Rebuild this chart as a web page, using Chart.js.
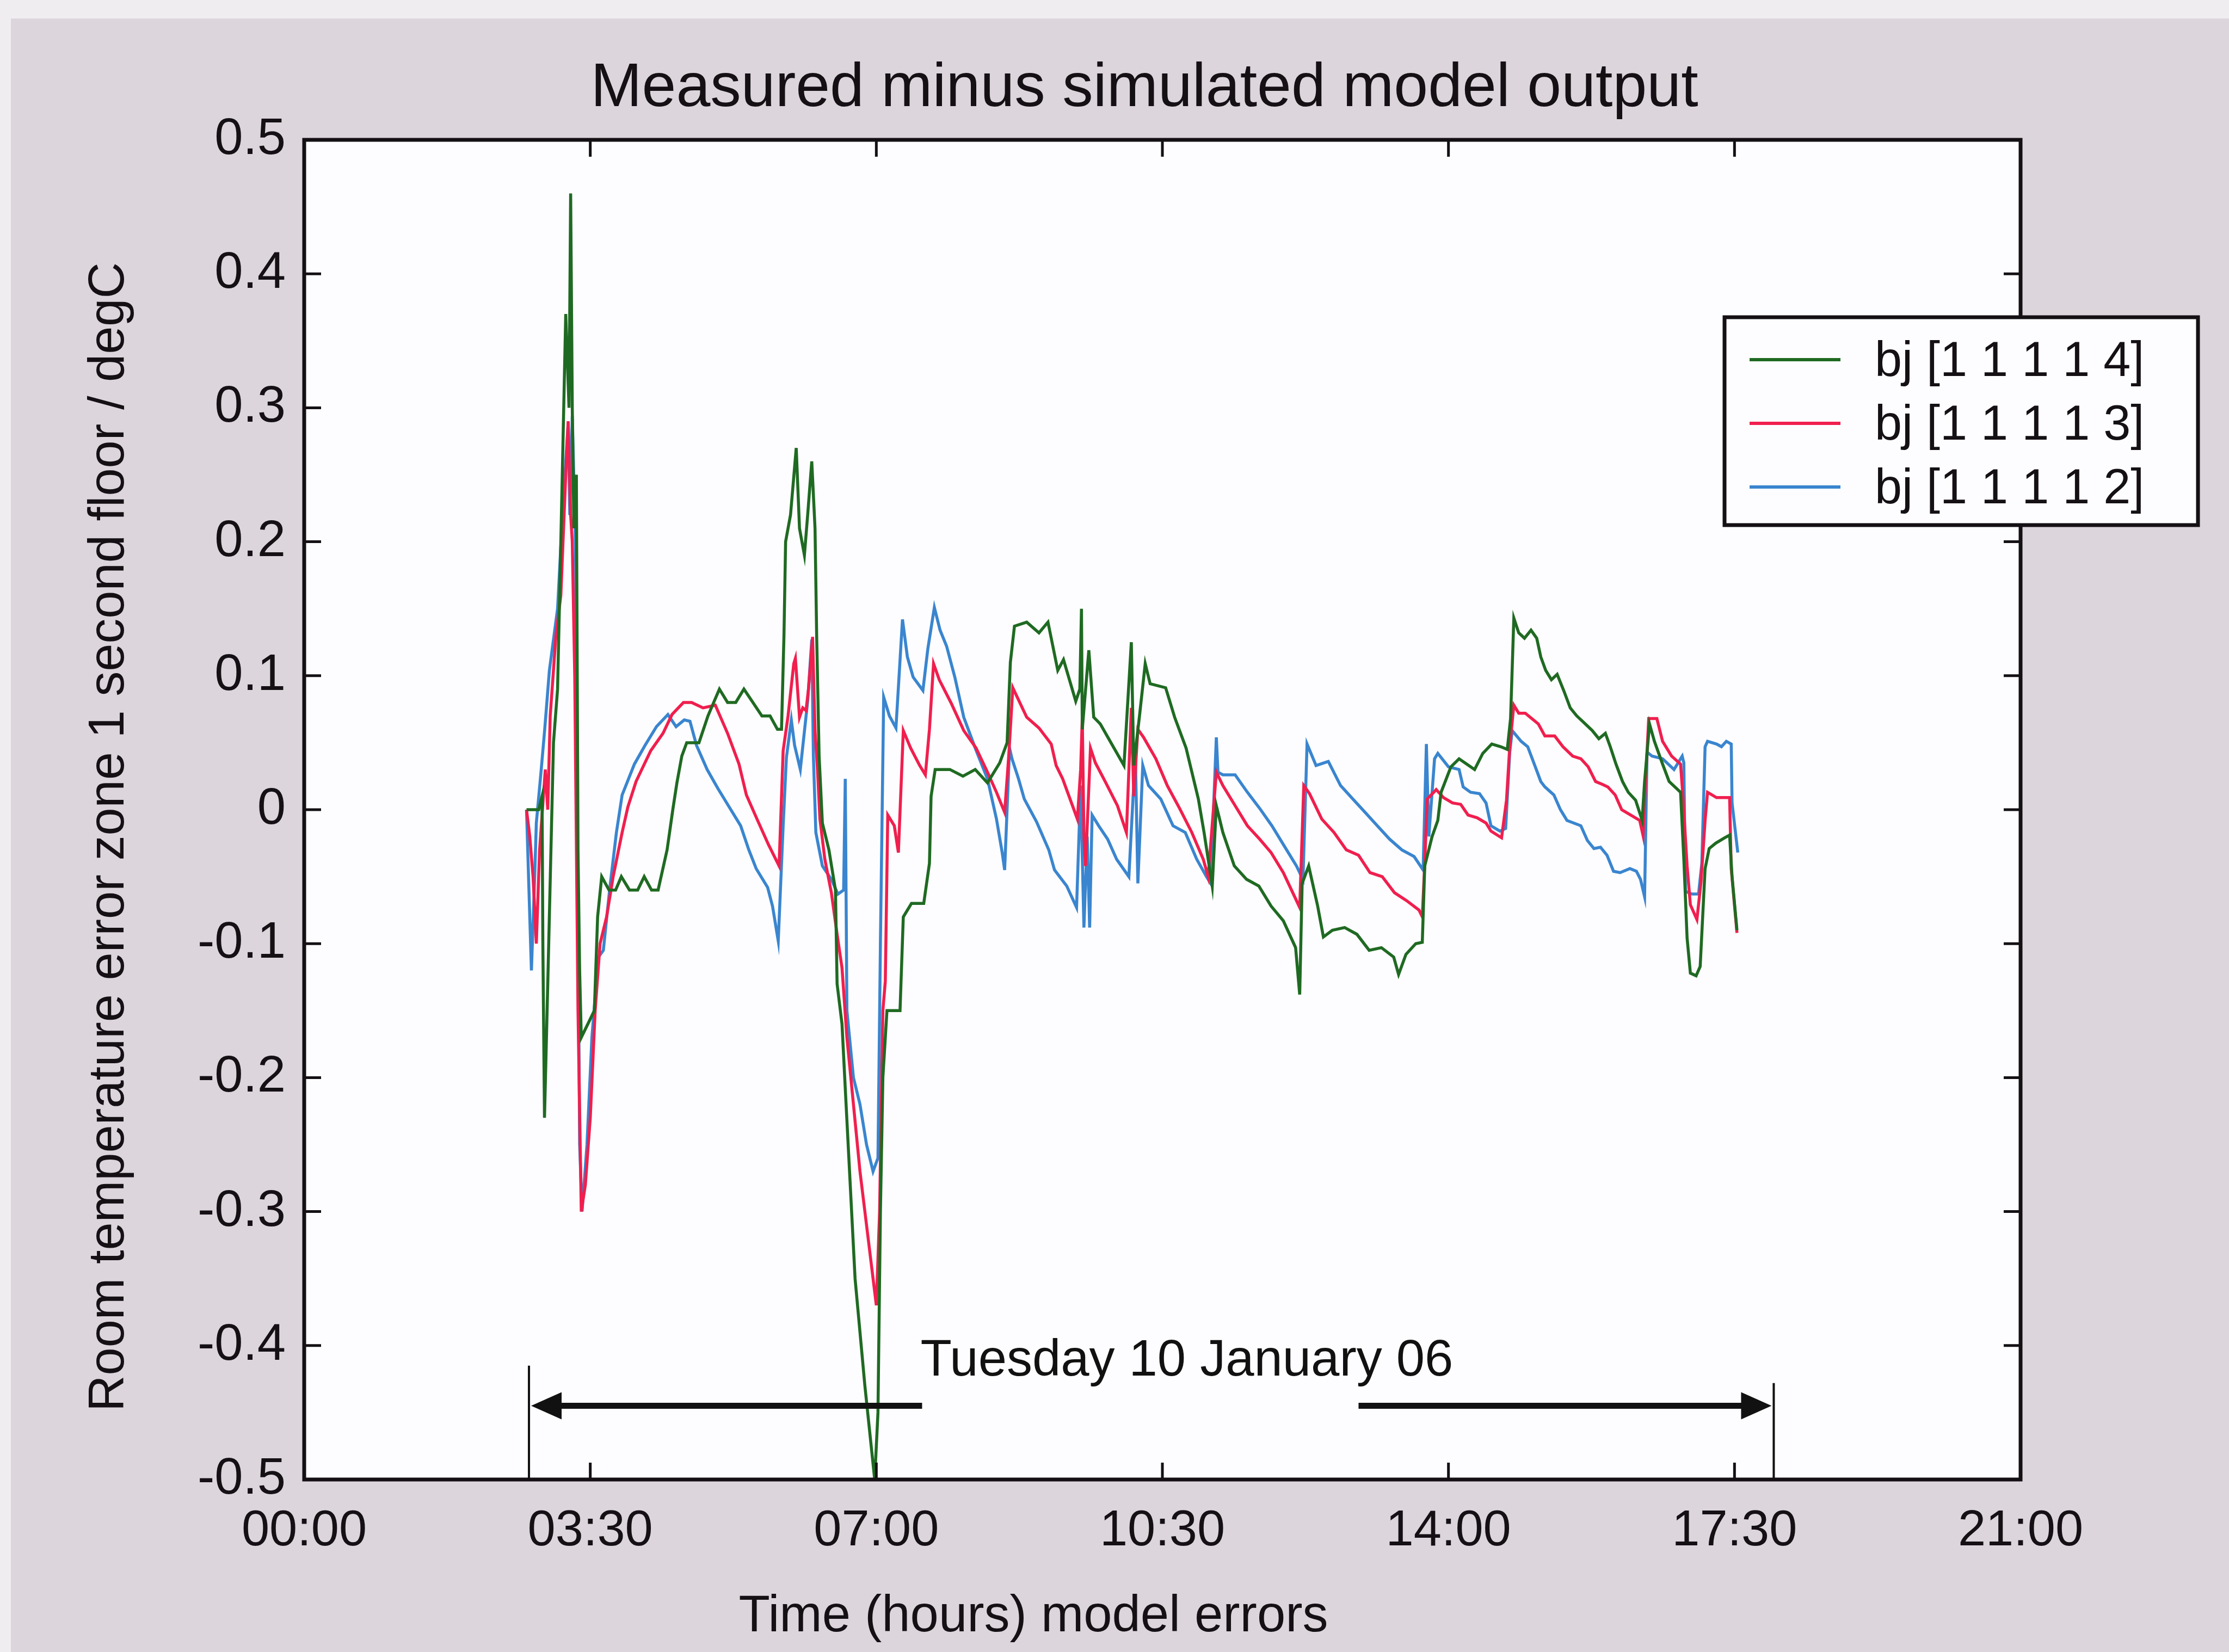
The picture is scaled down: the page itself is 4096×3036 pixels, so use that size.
<!DOCTYPE html>
<html>
<head>
<meta charset="utf-8">
<title>Measured minus simulated model output</title>
<script src="https://cdn.jsdelivr.net/npm/chart.js@4.4.1/dist/chart.umd.min.js"></script>
<style>
  html, body { margin: 0; padding: 0; background: #dcd5dc; }
  #wrap { width: 4096px; height: 3036px; }
</style>
</head>
<body>
<div id="wrap"><canvas id="errChart" width="4096" height="3036"></canvas></div>
<script>
// ── Data: time (hours since midnight) and room temperature error (degC) ──

var hoursBj4 = [2.72, 2.87, 2.91, 2.92, 2.94, 2.98, 3.05, 3.10, 3.14, 3.20, 3.24, 3.26, 3.28, 3.30, 3.33, 3.35, 3.37, 3.39, 3.47, 3.55,
  3.59, 3.64, 3.73, 3.81, 3.88, 3.98, 4.08, 4.16, 4.25, 4.33, 4.44, 4.51, 4.56, 4.62, 4.68, 4.76, 4.83, 4.94, 5.01, 5.08,
  5.18, 5.28, 5.38, 5.49, 5.60, 5.70, 5.79, 5.84, 5.87, 5.89, 5.95, 6.02, 6.06, 6.12, 6.16, 6.21, 6.25, 6.27, 6.30, 6.34,
  6.42, 6.50, 6.52, 6.58, 6.63, 6.74, 6.86, 6.98, 7.02, 7.05, 7.08, 7.13, 7.18, 7.29, 7.33, 7.43, 7.58, 7.65, 7.67, 7.72,
  7.90, 8.06, 8.21, 8.36, 8.51, 8.60, 8.64, 8.69, 8.84, 8.99, 9.10, 9.22, 9.29, 9.44, 9.49, 9.51, 9.52, 9.60, 9.66, 9.74,
  9.88, 10.03, 10.12, 10.15, 10.22, 10.29, 10.35, 10.54, 10.65, 10.79, 10.94, 11.01, 11.11, 11.16, 11.24, 11.38, 11.53, 11.68, 11.83, 11.98,
  12.13, 12.18, 12.21, 12.29, 12.40, 12.47, 12.58, 12.73, 12.88, 13.03, 13.18, 13.33, 13.39, 13.48, 13.60, 13.68, 13.71, 13.80, 13.87, 13.91,
  14.03, 14.13, 14.32, 14.42, 14.53, 14.64, 14.72, 14.76, 14.80, 14.86, 14.93, 15.01, 15.08, 15.13, 15.19, 15.26, 15.33, 15.41, 15.49, 15.57,
  15.64, 15.76, 15.84, 15.92, 15.98, 16.05, 16.13, 16.20, 16.29, 16.37, 16.40, 16.46, 16.52, 16.62, 16.70, 16.84, 16.88, 16.92, 16.96, 17.03,
  17.08, 17.14, 17.19, 17.27, 17.38, 17.44, 17.47, 17.53];
var errBj4 = [0.00, 0.00, 0.01, -0.10, -0.23, -0.13, 0.05, 0.09, 0.20, 0.37, 0.30, 0.46, 0.30, 0.21, 0.25, -0.03, -0.12, -0.17, -0.16, -0.15,
  -0.08, -0.05, -0.06, -0.06, -0.05, -0.06, -0.06, -0.05, -0.06, -0.06, -0.03, 0.00, 0.02, 0.04, 0.05, 0.05, 0.05, 0.07, 0.08, 0.09,
  0.08, 0.08, 0.09, 0.08, 0.07, 0.07, 0.06, 0.06, 0.13, 0.20, 0.22, 0.27, 0.21, 0.19, 0.22, 0.26, 0.21, 0.13, 0.04, -0.01,
  -0.03, -0.06, -0.13, -0.16, -0.22, -0.35, -0.43, -0.50, -0.45, -0.30, -0.20, -0.15, -0.15, -0.15, -0.08, -0.07, -0.07, -0.04, 0.01, 0.03,
  0.03, 0.025, 0.03, 0.02, 0.035, 0.05, 0.11, 0.137, 0.14, 0.132, 0.14, 0.104, 0.112, 0.081, 0.09, 0.15, 0.06, 0.119, 0.069, 0.064,
  0.049, 0.033, 0.125, 0.033, 0.07, 0.109, 0.094, 0.091, 0.069, 0.046, 0.008, -0.017, -0.057, 0.003, -0.017, -0.042, -0.052, -0.057, -0.072, -0.083,
  -0.103, -0.138, -0.055, -0.042, -0.072, -0.095, -0.09, -0.088, -0.093, -0.105, -0.103, -0.11, -0.123, -0.108, -0.10, -0.099, -0.042, -0.02, -0.008, 0.013,
  0.032, 0.038, 0.03, 0.042, 0.049, 0.047, 0.045, 0.068, 0.143, 0.132, 0.128, 0.134, 0.128, 0.114, 0.104, 0.097, 0.101, 0.089, 0.076, 0.07,
  0.066, 0.059, 0.053, 0.057, 0.047, 0.034, 0.021, 0.013, 0.007, -0.008, 0.021, 0.064, 0.051, 0.034, 0.021, 0.013, -0.037, -0.096, -0.122, -0.124,
  -0.117, -0.044, -0.029, -0.025, -0.021, -0.019, -0.05, -0.09];

var hoursBj3 = [2.72, 2.76, 2.80, 2.84, 2.88, 2.95, 2.98, 3.01, 3.08, 3.14, 3.20, 3.23, 3.26, 3.28, 3.31, 3.35, 3.39, 3.44, 3.50, 3.56,
  3.62, 3.70, 3.78, 3.89, 3.96, 4.06, 4.13, 4.24, 4.39, 4.50, 4.64, 4.74, 4.88, 5.03, 5.18, 5.32, 5.41, 5.54, 5.68, 5.81,
  5.86, 5.92, 5.99, 6.01, 6.06, 6.10, 6.14, 6.17, 6.22, 6.25, 6.28, 6.31, 6.37, 6.45, 6.52, 6.58, 6.64, 6.72, 6.80, 6.88,
  6.96, 7.00, 7.04, 7.08, 7.11, 7.14, 7.22, 7.27, 7.33, 7.42, 7.53, 7.60, 7.65, 7.70, 7.77, 7.92, 8.07, 8.22, 8.36, 8.47,
  8.57, 8.62, 8.67, 8.84, 8.99, 9.14, 9.20, 9.28, 9.34, 9.46, 9.50, 9.52, 9.54, 9.56, 9.62, 9.68, 9.80, 9.95, 10.06, 10.12,
  10.15, 10.20, 10.27, 10.42, 10.56, 10.71, 10.86, 11.00, 11.06, 11.16, 11.24, 11.39, 11.54, 11.69, 11.83, 11.98, 12.08, 12.18, 12.23, 12.30,
  12.45, 12.60, 12.75, 12.90, 13.04, 13.19, 13.34, 13.49, 13.64, 13.68, 13.71, 13.74, 13.82, 13.85, 13.94, 14.05, 14.15, 14.24, 14.35, 14.46,
  14.52, 14.65, 14.71, 14.75, 14.80, 14.86, 14.94, 15.02, 15.10, 15.18, 15.30, 15.40, 15.52, 15.62, 15.71, 15.80, 15.88, 15.95, 16.04, 16.12,
  16.23, 16.34, 16.38, 16.45, 16.55, 16.62, 16.73, 16.84, 16.87, 16.92, 16.96, 17.04, 17.09, 17.14, 17.17, 17.28, 17.44, 17.46, 17.53];
var errBj3 = [0.00, -0.02, -0.05, -0.10, -0.03, 0.03, 0.00, 0.07, 0.13, 0.16, 0.25, 0.29, 0.22, 0.20, 0.10, -0.15, -0.30, -0.28, -0.23, -0.15,
  -0.10, -0.08, -0.05, -0.017, 0.002, 0.021, 0.03, 0.044, 0.057, 0.071, 0.08, 0.08, 0.076, 0.078, 0.057, 0.034, 0.011, -0.007, -0.026, -0.042,
  0.044, 0.07, 0.109, 0.113, 0.069, 0.076, 0.074, 0.09, 0.129, 0.059, 0.03, -0.007, -0.037, -0.062, -0.093, -0.118, -0.17, -0.22, -0.27, -0.31,
  -0.35, -0.37, -0.30, -0.15, -0.128, -0.004, -0.012, -0.032, 0.059, 0.046, 0.033, 0.026, 0.06, 0.109, 0.097, 0.079, 0.059, 0.046, 0.028, 0.013,
  -0.002, 0.04, 0.091, 0.069, 0.061, 0.049, 0.033, 0.023, 0.013, -0.007, 0.03, 0.069, -0.02, -0.042, 0.046, 0.035, 0.021, 0.003, -0.017, 0.076,
  0.01, 0.06, 0.054, 0.038, 0.018, 0.001, -0.017, -0.037, -0.05, 0.028, 0.018, 0.003, -0.012, -0.022, -0.032, -0.047, -0.06, -0.073, 0.018, 0.012,
  -0.007, -0.017, -0.03, -0.034, -0.047, -0.05, -0.062, -0.068, -0.075, -0.08, -0.04, 0.008, 0.013, 0.015, 0.009, 0.005, 0.004, -0.004, -0.006, -0.01,
  -0.016, -0.021, 0.007, 0.047, 0.078, 0.072, 0.072, 0.068, 0.064, 0.055, 0.055, 0.047, 0.04, 0.038, 0.032, 0.021, 0.019, 0.017, 0.011, 0.0,
  -0.004, -0.008, -0.019, 0.068, 0.068, 0.051, 0.04, 0.034, 0.009, -0.042, -0.071, -0.082, -0.054, -0.008, 0.013, 0.009, 0.009, -0.044, -0.092];

var hoursBj2 = [2.72, 2.75, 2.78, 2.82, 2.84, 2.90, 2.94, 3.00, 3.10, 3.16, 3.23, 3.25, 3.28, 3.32, 3.37, 3.40, 3.46, 3.52, 3.60, 3.66,
  3.74, 3.82, 3.89, 4.04, 4.17, 4.31, 4.45, 4.55, 4.65, 4.72, 4.80, 4.93, 5.06, 5.20, 5.34, 5.44, 5.53, 5.67, 5.73, 5.80,
  5.86, 5.90, 5.96, 6.00, 6.07, 6.16, 6.21, 6.23, 6.26, 6.34, 6.45, 6.53, 6.60, 6.62, 6.64, 6.72, 6.80, 6.88, 6.96, 7.02,
  7.05, 7.09, 7.16, 7.24, 7.32, 7.38, 7.45, 7.57, 7.63, 7.71, 7.78, 7.86, 7.96, 8.07, 8.21, 8.36, 8.47, 8.54, 8.57, 8.63,
  8.66, 8.74, 8.81, 8.96, 9.11, 9.18, 9.33, 9.45, 9.50, 9.54, 9.58, 9.61, 9.64, 9.72, 9.83, 9.94, 10.09, 10.14, 10.17, 10.20,
  10.26, 10.33, 10.48, 10.63, 10.78, 10.92, 11.04, 11.09, 11.16, 11.18, 11.24, 11.39, 11.54, 11.69, 11.84, 11.99, 12.14, 12.22, 12.27, 12.38,
  12.53, 12.68, 12.83, 12.98, 13.13, 13.28, 13.43, 13.58, 13.69, 13.73, 13.76, 13.83, 13.87, 14.00, 14.13, 14.18, 14.27, 14.38, 14.46, 14.52,
  14.63, 14.70, 14.75, 14.78, 14.89, 14.97, 15.05, 15.13, 15.18, 15.29, 15.37, 15.45, 15.62, 15.70, 15.78, 15.86, 15.94, 16.02, 16.10, 16.22,
  16.30, 16.35, 16.40, 16.43, 16.49, 16.62, 16.76, 16.86, 16.88, 16.90, 16.98, 17.06, 17.10, 17.14, 17.17, 17.28, 17.34, 17.40, 17.46, 17.47,
  17.54];
var errBj2 = [0.00, -0.06, -0.12, -0.05, -0.01, 0.03, 0.058, 0.104, 0.15, 0.22, 0.289, 0.22, 0.294, 0.196, -0.25, -0.30, -0.25, -0.17, -0.11, -0.105,
  -0.058, -0.017, 0.011, 0.034, 0.048, 0.062, 0.071, 0.062, 0.067, 0.066, 0.048, 0.03, 0.016, 0.002, -0.012, -0.03, -0.044, -0.058, -0.072, -0.098,
  -0.012, 0.039, 0.067, 0.048, 0.03, 0.081, 0.127, 0.04, -0.017, -0.042, -0.052, -0.063, -0.06, 0.023, -0.15, -0.20, -0.22, -0.25, -0.27, -0.26,
  -0.10, 0.084, 0.07, 0.061, 0.142, 0.114, 0.099, 0.089, 0.12, 0.151, 0.134, 0.122, 0.099, 0.069, 0.046, 0.023, -0.007, -0.032, -0.045, 0.046,
  0.038, 0.023, 0.008, -0.009, -0.03, -0.045, -0.057, -0.073, 0.018, -0.088, -0.02, -0.088, -0.004, -0.012, -0.022, -0.037, -0.05, 0.008, 0.04, -0.055,
  0.033, 0.018, 0.008, -0.012, -0.017, -0.037, -0.05, -0.055, 0.054, 0.028, 0.026, 0.026, 0.013, 0.001, -0.012, -0.027, -0.042, -0.052, 0.049, 0.033,
  0.036, 0.018, 0.008, -0.002, -0.012, -0.022, -0.03, -0.035, -0.045, 0.049, -0.02, 0.038, 0.042, 0.032, 0.03, 0.017, 0.013, 0.012, 0.005, -0.012,
  -0.016, -0.014, 0.043, 0.059, 0.051, 0.047, 0.034, 0.021, 0.017, 0.011, 0.0, -0.008, -0.012, -0.023, -0.029, -0.028, -0.034, -0.046, -0.047, -0.044,
  -0.046, -0.052, -0.065, 0.043, 0.04, 0.038, 0.03, 0.04, 0.035, -0.061, -0.063, -0.063, -0.04, 0.047, 0.051, 0.049, 0.047, 0.051, 0.049, 0.005,
  -0.032];

var seriesLabels = ['bj [1 1 1 1 4]', 'bj [1 1 1 1 3]', 'bj [1 1 1 1 2]'];
var seriesColors = ['#1f6a22', '#f01f4e', '#3a85cf'];

var xTickValues = [0, 3.5, 7, 10.5, 14, 17.5, 21];
var xTickLabels = ['00:00', '03:30', '07:00', '10:30', '14:00', '17:30', '21:00'];
var yTickValues = [-0.5, -0.4, -0.3, -0.2, -0.1, 0, 0.1, 0.2, 0.3, 0.4, 0.5];
var yTickLabels = ['-0.5', '-0.4', '-0.3', '-0.2', '-0.1', '0', '0.1', '0.2', '0.3', '0.4', '0.5'];

// Date span annotation (hours / degC)
var dayLabel = 'Tuesday 10 January 06';
var spanStart = 2.75, spanEnd = 17.98;
var arrowLeftEnd = 7.56, arrowRightStart = 12.9;

var FONT = '"Liberation Sans", Arial, Helvetica, sans-serif';

function toPoints(xs, ys) {
  return xs.map(function(x, i) { return { x: x, y: ys[i] }; });
}

// ── Plugins: backdrop, MATLAB-style box, annotation, texts, legend ──

var backdrop = {
  id: 'backdrop',
  beforeDraw: function(chart) {
    var ctx = chart.ctx, a = chart.chartArea;
    ctx.save();
    ctx.fillStyle = '#dcd5dc';
    ctx.fillRect(0, 0, chart.width, chart.height);
    ctx.fillStyle = '#f0edf1';
    ctx.fillRect(0, 0, chart.width, 34);
    ctx.fillRect(0, 0, 20, chart.height);
    ctx.fillStyle = '#fdfdff';
    ctx.fillRect(a.left, a.top, a.right - a.left, a.bottom - a.top);
    ctx.restore();
  }
};

var matlabBox = {
  id: 'matlabBox',
  afterDatasetsDraw: function(chart) {
    var ctx = chart.ctx, a = chart.chartArea;
    var sx = chart.scales.x, sy = chart.scales.y;
    var len = 31;
    ctx.save();
    ctx.strokeStyle = '#141014';
    ctx.lineWidth = 5;
    ctx.beginPath();
    xTickValues.forEach(function(v) {
      var px = sx.getPixelForValue(v);
      ctx.moveTo(px, a.bottom); ctx.lineTo(px, a.bottom - len);
      ctx.moveTo(px, a.top); ctx.lineTo(px, a.top + len);
    });
    yTickValues.forEach(function(v) {
      var py = sy.getPixelForValue(v);
      ctx.moveTo(a.left, py); ctx.lineTo(a.left + len, py);
      ctx.moveTo(a.right, py); ctx.lineTo(a.right - len, py);
    });
    ctx.stroke();
    ctx.lineWidth = 7;
    ctx.strokeRect(a.left, a.top, a.right - a.left, a.bottom - a.top);
    ctx.restore();
  }
};

function arrowHead(ctx, tipX, y, dir) {
  var len = 56, half = 25;
  ctx.beginPath();
  ctx.moveTo(tipX, y);
  ctx.lineTo(tipX - dir * len, y - half);
  ctx.lineTo(tipX - dir * len, y + half);
  ctx.closePath();
  ctx.fill();
}

var dateSpan = {
  id: 'dateSpan',
  afterDatasetsDraw: function(chart) {
    var ctx = chart.ctx;
    var sx = chart.scales.x, sy = chart.scales.y;
    var x0 = sx.getPixelForValue(spanStart), x1 = sx.getPixelForValue(spanEnd);
    var xa = sx.getPixelForValue(arrowLeftEnd), xb = sx.getPixelForValue(arrowRightStart);
    var yArrow = sy.getPixelForValue(-0.445);
    ctx.save();
    ctx.strokeStyle = '#111';
    ctx.fillStyle = '#111';
    // end markers
    ctx.lineWidth = 4;
    ctx.beginPath();
    ctx.moveTo(x0, sy.getPixelForValue(-0.415)); ctx.lineTo(x0, sy.getPixelForValue(-0.5));
    ctx.moveTo(x1, sy.getPixelForValue(-0.428)); ctx.lineTo(x1, sy.getPixelForValue(-0.5));
    ctx.stroke();
    // arrows
    ctx.lineWidth = 11;
    ctx.beginPath();
    ctx.moveTo(x0 + 40, yArrow); ctx.lineTo(xa, yArrow);
    ctx.moveTo(xb, yArrow); ctx.lineTo(x1 - 40, yArrow);
    ctx.stroke();
    arrowHead(ctx, x0 + 4, yArrow, -1);
    arrowHead(ctx, x1 - 4, yArrow, 1);
    // label
    ctx.font = '94px ' + FONT;
    ctx.textAlign = 'left';
    ctx.textBaseline = 'alphabetic';
    ctx.fillText(dayLabel, sx.getPixelForValue(7.54), sy.getPixelForValue(-0.4225));
    ctx.restore();
  }
};

var figureText = {
  id: 'figureText',
  afterDraw: function(chart) {
    var ctx = chart.ctx;
    ctx.save();
    ctx.fillStyle = '#141014';
    ctx.textBaseline = 'alphabetic';
    ctx.textAlign = 'center';
    ctx.font = '113px ' + FONT;
    ctx.fillText('Measured minus simulated model output', 2103, 195);
    ctx.font = '94px ' + FONT;
    ctx.fillText('Time (hours) model errors', 1899, 2998);
    ctx.font = '92px ' + FONT;
    ctx.translate(227, 1538);
    ctx.rotate(-Math.PI / 2);
    ctx.fillText('Room temperature error zone 1 second floor / degC', 0, 0);
    ctx.restore();
  }
};

var boxLegend = {
  id: 'boxLegend',
  afterDraw: function(chart) {
    var ctx = chart.ctx;
    var left = 3169, top = 583, right = 4039, bottom = 965;
    var rows = [661, 778, 895];
    ctx.save();
    ctx.fillStyle = '#fdfdff';
    ctx.fillRect(left, top, right - left, bottom - top);
    ctx.strokeStyle = '#141014';
    ctx.lineWidth = 7;
    ctx.strokeRect(left, top, right - left, bottom - top);
    ctx.font = '90px ' + FONT;
    ctx.textAlign = 'left';
    ctx.textBaseline = 'alphabetic';
    chart.data.datasets.forEach(function(ds, i) {
      ctx.strokeStyle = ds.borderColor;
      ctx.lineWidth = 6;
      ctx.beginPath();
      ctx.moveTo(3215, rows[i]); ctx.lineTo(3382, rows[i]);
      ctx.stroke();
      ctx.fillStyle = '#141014';
      ctx.fillText(ds.label, 3445, rows[i] + 30);
    });
    ctx.restore();
  }
};

// ── Chart ──

var canvas = document.getElementById('errChart');
new Chart(canvas, {
  type: 'line',
  data: {
    datasets: [
      { label: seriesLabels[0], data: toPoints(hoursBj4, errBj4), borderColor: seriesColors[0] },
      { label: seriesLabels[1], data: toPoints(hoursBj3, errBj3), borderColor: seriesColors[1] },
      { label: seriesLabels[2], data: toPoints(hoursBj2, errBj2), borderColor: seriesColors[2] }
    ].map(function(ds) {
      ds.borderWidth = 5.5;
      ds.pointRadius = 0;
      ds.tension = 0;
      ds.fill = false;
      return ds;
    })
  },
  options: {
    responsive: false,
    animation: false,
    devicePixelRatio: 1,
    layout: { padding: { left: 0, top: 257, right: 383, bottom: 0 } },
    plugins: {
      legend: { display: false },
      title: { display: false },
      tooltip: { enabled: false }
    },
    scales: {
      x: {
        type: 'linear',
        min: 0,
        max: 21,
        afterBuildTicks: function(scale) {
          scale.ticks = xTickValues.map(function(v) { return { value: v }; });
        },
        afterFit: function(scale) { scale.height = 317; },
        grid: { display: false, drawTicks: false },
        border: { display: false },
        ticks: {
          color: '#141014',
          padding: 40,
          maxRotation: 0,
          autoSkip: false,
          font: { family: FONT, size: 92 },
          callback: function(v, i) { return xTickLabels[i]; }
        }
      },
      y: {
        type: 'linear',
        min: -0.5,
        max: 0.5,
        afterBuildTicks: function(scale) {
          scale.ticks = yTickValues.map(function(v) { return { value: v }; });
        },
        afterFit: function(scale) { scale.width = 559; },
        grid: { display: false, drawTicks: false },
        border: { display: false },
        ticks: {
          color: '#141014',
          padding: 34,
          autoSkip: false,
          font: { family: FONT, size: 94 },
          callback: function(v, i) { return yTickLabels[i]; }
        }
      }
    }
  },
  plugins: [backdrop, matlabBox, dateSpan, figureText, boxLegend]
});
</script>
</body>
</html>
